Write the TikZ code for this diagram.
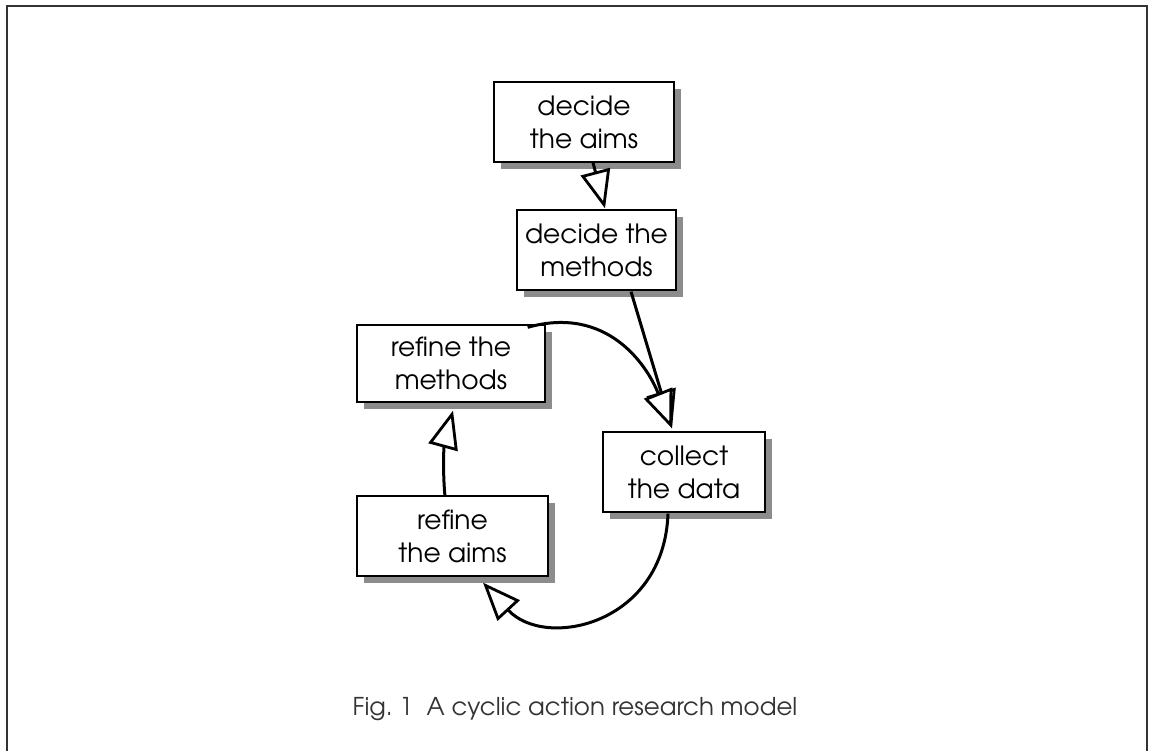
\documentclass[tikz,border=0pt]{standalone}
\usepackage{fontspec}
\setmainfont{texgyreadventor}[Extension=.otf,UprightFont=*-regular,BoldFont=*-bold]
\usetikzlibrary{arrows.meta,shadows}
\definecolor{shadowgray}{HTML}{8C8C8C}
\definecolor{framegray}{HTML}{333333}
\tikzset{
  boxnode/.style={draw=black, line width=1.3pt, fill=white, align=center,
    inner sep=0pt, font=\fontsize{26.5}{33}\selectfont,
    drop shadow={shadow xshift=7pt, shadow yshift=-7pt, fill=shadowgray, opacity=1}},
  arrowline/.style={line width=3pt, -{Triangle[open, length=38pt 0 0, width=30pt 0 0, fill=white, line width=2.8pt]}},
}
\begin{document}
\begin{tikzpicture}[x=1pt,y=-1pt]
\useasboundingbox (0,0) rectangle (1149,751);
\draw[framegray, line width=1.8pt] (7,760) -- (7,6) -- (1147,6) -- (1147,760);

\node[boxnode, minimum width=180pt, minimum height=80pt] (b1) at (584,122) {decide\\the aims};
\node[boxnode, minimum width=159pt, minimum height=80pt] (b2) at (596.5,250) {decide the\\methods};
\node[boxnode, minimum width=188pt, minimum height=77pt] (b3) at (451,363.5) {refine the\\methods};
\node[boxnode, minimum width=191pt, minimum height=80pt] (b4) at (452.5,536) {refine\\the aims};
\node[boxnode, minimum width=162pt, minimum height=80pt] (b5) at (684,472) {collect\\the data};

\draw[arrowline] ([xshift=9pt]b1.south) -- ([xshift=8.5pt,yshift=1pt]b2.north);
\draw[arrowline] ([xshift=34.5pt,yshift=-1pt]b2.south) -- ([xshift=-12pt,yshift=3pt]b5.north);
\draw[arrowline] ([xshift=-18pt,yshift=-3pt]b3.north east) .. controls (607,305) and (647,365) .. ([xshift=-12pt,yshift=3pt]b5.north);
\draw[arrowline] ([xshift=-16pt,yshift=-1pt]b5.south) .. controls (664,625) and (545,650) .. ([xshift=30.5pt,yshift=-6pt]b4.south);
\draw[arrowline] ([xshift=-7.5pt,yshift=-1pt]b4.north) .. controls (442,465) and (445,440) .. ([xshift=2pt,yshift=-8pt]b3.south);

\node[text=framegray, font=\fontsize{24.5}{28}\selectfont, anchor=base] (cap) at (575,715) {Fig.\ 1\ \ A cyclic action research model};
\end{tikzpicture}
\end{document}
